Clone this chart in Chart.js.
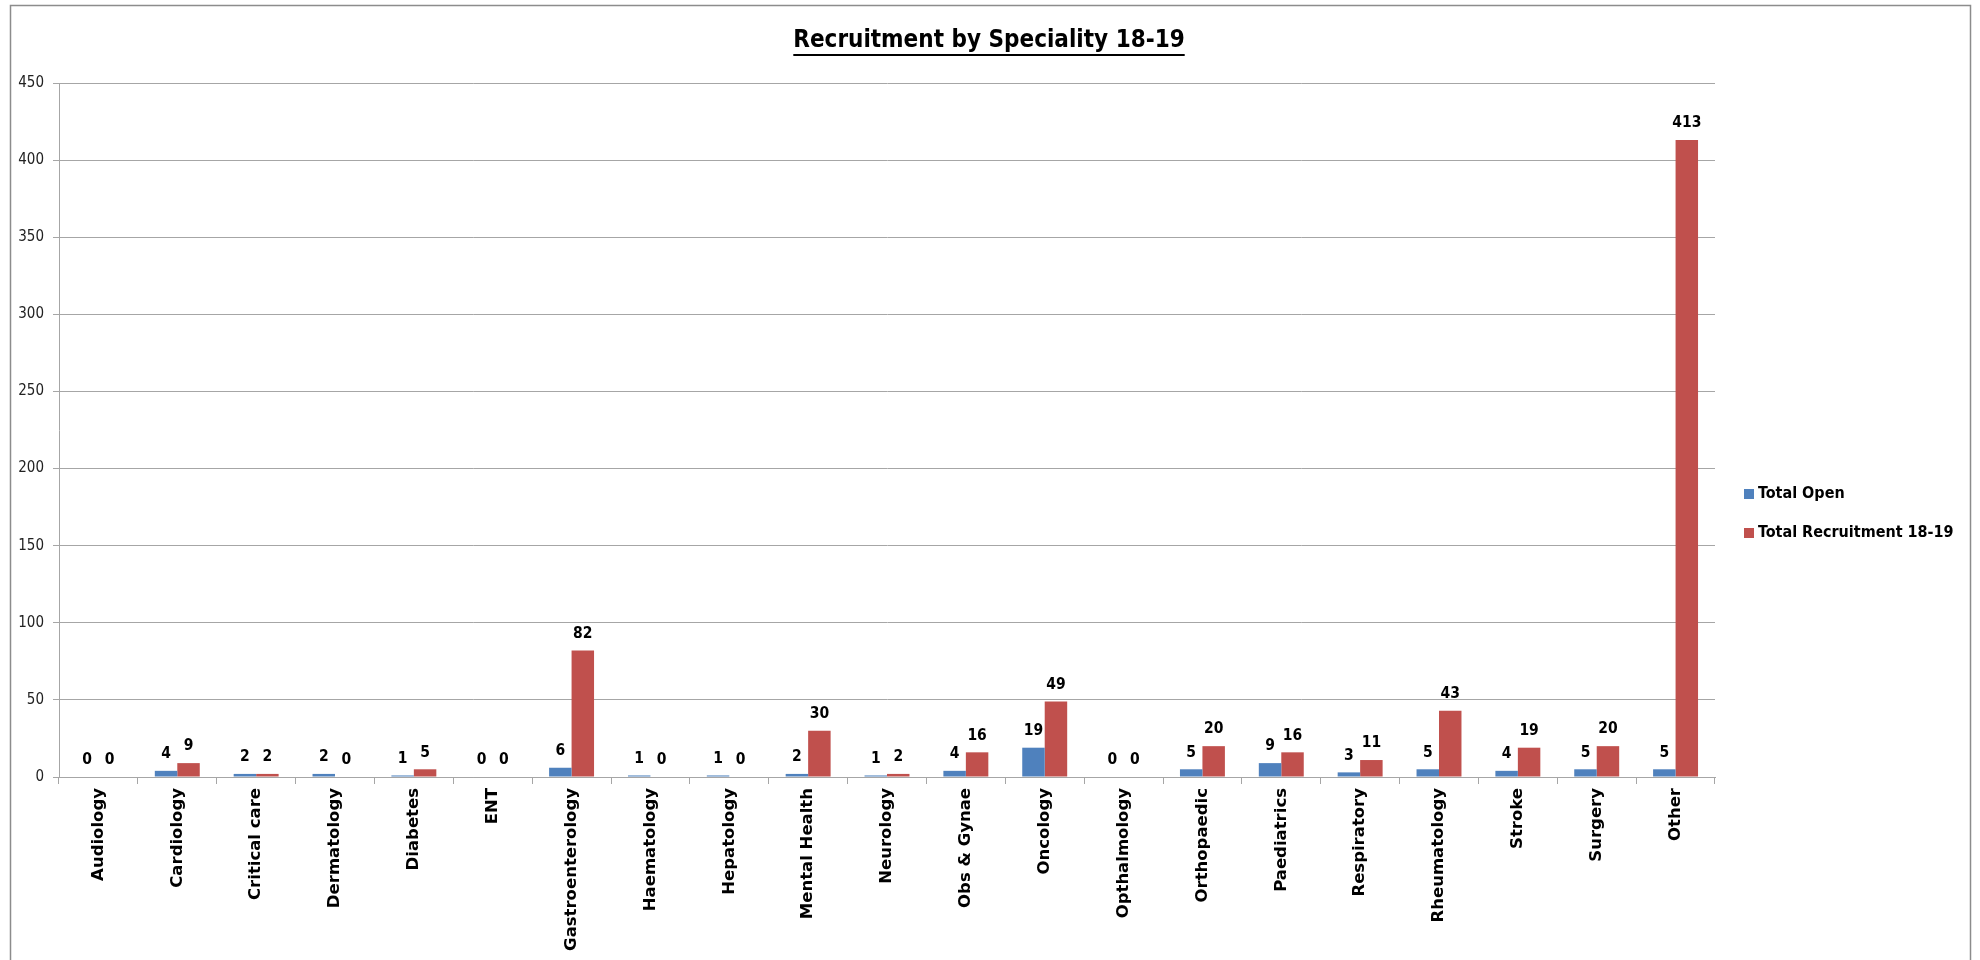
<!DOCTYPE html>
<html>
<head>
<meta charset="utf-8">
<script src="https://cdn.jsdelivr.net/npm/chart.js@4/dist/chart.umd.min.js"></script>
<style>
  html, body { margin: 0; padding: 0; background: #fff; }
  #wrap { width: 1980px; height: 960px; }
</style>
</head>
<body>
<div id="wrap"><canvas id="myChart" width="1980" height="960"></canvas></div>
<script>
// Recruitment by speciality, 18-19
const specialities = ["Audiology", "Cardiology", "Critical care", "Dermatology", "Diabetes", "ENT",
  "Gastroenterology", "Haematology", "Hepatology", "Mental Health", "Neurology", "Obs & Gynae",
  "Oncology", "Opthalmology", "Orthopaedic", "Paediatrics", "Respiratory", "Rheumatology",
  "Stroke", "Surgery", "Other"];
const totalOpen = [0, 4, 2, 2, 1, 0, 6, 1, 1, 2, 1, 4, 19, 0, 5, 9, 3, 5, 4, 5, 5];
const totalRecruitment = [0, 9, 2, 0, 5, 0, 82, 0, 0, 30, 2, 16, 49, 0, 20, 16, 11, 43, 19, 20, 413];
const yTicks = [0, 50, 100, 150, 200, 250, 300, 350, 400, 450];

const seriesNames = ["Total Open", "Total Recruitment 18-19"];
const barColors = ["#4f81bd", "#c0504d"];

const narrow = "'Liberation Sans Narrow', 'DejaVu Sans Condensed', sans-serif";
const gridColor = "#a6a6a6";

// frame, underlined title, legend and value labels
const decorations = {
  id: "decorations",
  beforeDraw(chart) {
    const ctx = chart.ctx;
    ctx.save();
    ctx.fillStyle = "#fff";
    ctx.fillRect(0, 0, chart.width, chart.height);
    ctx.strokeStyle = "#8c8c8c";
    ctx.lineWidth = 1.5;
    ctx.strokeRect(10.5, 5.5, 1960, 1000);
    ctx.restore();
  },
  afterDatasetsDraw(chart) {
    const ctx = chart.ctx;
    ctx.save();
    ctx.font = "bold 15.5px " + narrow;
    ctx.fillStyle = "#000";
    ctx.textAlign = "center";
    ctx.textBaseline = "bottom";
    chart.data.datasets.forEach((ds, i) => {
      chart.getDatasetMeta(i).data.forEach((bar, j) => {
        ctx.fillText(ds.data[j], bar.x, bar.y - 9);
      });
    });
    ctx.restore();
  },
  afterDraw(chart) {
    const ctx = chart.ctx;
    ctx.save();
    // title
    const title = "Recruitment by Speciality 18-19";
    ctx.font = "bold 24px " + narrow;
    ctx.fillStyle = "#000";
    ctx.textAlign = "center";
    ctx.textBaseline = "middle";
    const tx = 989, ty = 41;
    ctx.fillText(title, tx, ty);
    const w = ctx.measureText(title).width;
    ctx.fillRect(tx - w / 2, ty + 13, w, 2);
    // legend
    ctx.font = "bold 16px " + narrow;
    ctx.textAlign = "left";
    chart.data.datasets.forEach((ds, i) => {
      const y = 494 + i * 39;
      ctx.fillStyle = ds.backgroundColor;
      ctx.fillRect(1744, y - 5, 10, 10);
      ctx.fillStyle = "#000";
      ctx.fillText(ds.label, 1758, y);
    });
    ctx.restore();
  }
};

const myChart = new Chart("myChart", {
  type: "bar",
  data: {
    labels: specialities,
    datasets: [
      { label: seriesNames[0], data: totalOpen, backgroundColor: barColors[0] },
      { label: seriesNames[1], data: totalRecruitment, backgroundColor: barColors[1] }
    ]
  },
  options: {
    responsive: false,
    animation: false,
    layout: { padding: { left: 0, top: 83, right: 265, bottom: 0 } },
    datasets: { bar: { barPercentage: 1.0, categoryPercentage: 0.57 } },
    plugins: {
      legend: { display: false },
      title: { display: false },
      tooltip: { enabled: false }
    },
    scales: {
      x: {
        grid: { offset: true, drawOnChartArea: false, drawTicks: true, tickLength: 7, color: gridColor },
        border: { color: gridColor },
        ticks: {
          autoSkip: false, maxRotation: 90, minRotation: 90, padding: 4,
          color: "#000",
          font: { family: "'DejaVu Sans', sans-serif", weight: "bold", size: 16.5 }
        },
        afterFit(scale) { scale.height = 183; }
      },
      y: {
        min: 0, max: 450,
        afterBuildTicks(scale) { scale.ticks = yTicks.map(v => ({ value: v })); },
        grid: { color: gridColor, tickLength: 6 },
        border: { color: gridColor },
        ticks: { padding: 9, color: "#222", font: { family: narrow, size: 15 } },
        afterFit(scale) { scale.width = 59; }
      }
    }
  },
  plugins: [decorations]
});
</script>
</body>
</html>
